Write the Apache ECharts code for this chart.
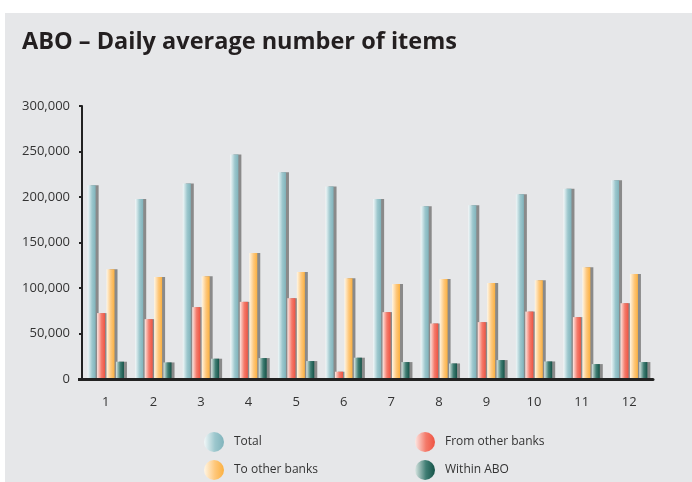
<!DOCTYPE html>
<html>
<head>
<meta charset="utf-8">
<script src="https://cdn.jsdelivr.net/npm/echarts@6/dist/echarts.min.js"></script>
<style>
html,body{margin:0;padding:0;background:#ffffff;}
#c{width:692px;height:482px;}
</style>
</head>
<body>
<div id="c"></div>
<script>
var categories = ['1','2','3','4','5','6','7','8','9','10','11','12'];
var total = [213000,197700,214900,246700,227300,211600,197700,189700,190800,202900,209000,218500];
var fromOther = [72400,65800,79000,84800,88800,8000,73500,61000,62500,74100,68000,83300];
var toOther = [120600,112200,113000,138500,117700,110700,104500,110000,105600,108600,122800,115500];
var withinABO = [19000,18200,22300,23000,19700,23400,18600,17100,20800,19300,16400,18600];
var yTicks = [0,50000,100000,150000,200000,250000,300000];

function grad(light, mid, dark){
  return {type:'linear',x:0,y:0,x2:1,y2:0,colorStops:[
    {offset:0,color:light},{offset:0.55,color:mid},{offset:1,color:dark}]};
}
var styles = {
  'Total': grad('#f2f8f9','#9cc7cd','#80b3bb'),
  'From other banks': grad('#fde8e4','#f47a6a','#ee5443'),
  'To other banks': grad('#fff6e6','#fec77a','#fbb040'),
  'Within ABO': grad('#dbe7e4','#3f7d73','#155247')
};
function fmt(v){ return String(v).replace(/\B(?=(\d{3})+(?!\d))/g, ','); }

function mk(name, data){
  return {
    name:name, type:'bar', data:data, barWidth:8, barGap:'18%', barCategoryGap:'20%',
    itemStyle:{color:styles[name], shadowColor:'#8a8a8a', shadowOffsetX:3, shadowOffsetY:0, shadowBlur:0},
    emphasis:{disabled:true}
  };
}
function leg(name, left, top){
  return {data:[name], left:left, top:top, icon:'circle', itemWidth:20, itemHeight:20,
    selectedMode:false, textStyle:{fontFamily:'Open Sans', fontSize:12, color:'#333', padding:[0,0,0,5]}};
}
var chart = echarts.init(document.getElementById('c'), null, {renderer:'canvas'});
chart.setOption({
  animation:false,
  backgroundColor:'#ffffff',
  graphic:[
    {type:'rect', shape:{x:5,y:13,width:687,height:469}, style:{fill:'#e6e7e9'}, z:-10, silent:true},
    {type:'text', left:22, top:30, style:{text:'ABO – Daily average number of items', font:'bold 23.5px "Open Sans"', fill:'#231f20'}},
    {type:'line', shape:{x1:78,y1:379.5,x2:84,y2:379.5}, style:{stroke:'#222',lineWidth:3}, z:10}
  ],
  legend:[
    leg('Total',199,427),
    leg('From other banks',410,427),
    leg('To other banks',199,455),
    leg('Within ABO',410,455)
  ],
  grid:{left:82,right:39,top:106,bottom:103,containLabel:false},
  xAxis:{type:'category', data:categories, z:5,
    axisLine:{lineStyle:{color:'#222',width:3}}, axisTick:{show:false},
    axisLabel:{fontFamily:'Open Sans', fontSize:13, color:'#333', margin:17}},
  yAxis:{type:'value', min:0, max:300000, interval:50000,
    axisLine:{show:true, lineStyle:{color:'#222',width:2}},
    axisTick:{show:true, length:3, lineStyle:{color:'#222',width:2}},
    splitLine:{show:false},
    axisLabel:{fontFamily:'Open Sans', fontSize:13, color:'#333', margin:12,
      formatter:function(v){ return yTicks.indexOf(v)>=0 ? fmt(v) : ''; }}},
  series:[mk('Total',total), mk('From other banks',fromOther), mk('To other banks',toOther), mk('Within ABO',withinABO)]
});
</script>
</body>
</html>
